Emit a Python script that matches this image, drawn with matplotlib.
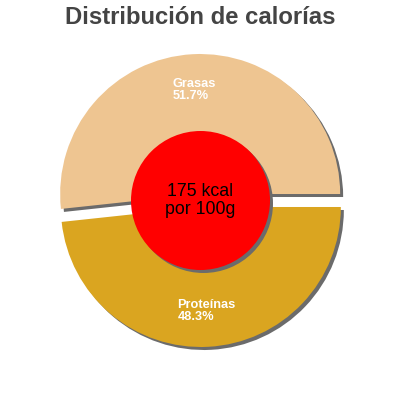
import matplotlib
matplotlib.use("Agg")
import matplotlib.pyplot as plt
from matplotlib.patches import Circle

title = "Distribución de calorías"
categories = ["Grasas", "Proteínas"]
percentages = [51.7, 48.3]
center_text = "175 kcal\npor 100g"

slice_colors = ["#EEC591", "#DAA520"]
shadow_color = "#6B6B6B"

plt.rcParams['font.family'] = ['Liberation Sans', 'DejaVu Sans']

fig = plt.figure(figsize=(4, 4), dpi=100)
ax = fig.add_axes([0, 0, 1, 1])
ax.set_xlim(0, 400)
ax.set_ylim(0, 400)
ax.set_aspect('equal')
ax.axis('off')

cx, cy = 200.5, 199.5
R = 140
expl = [6.5, 6.5]
sh = 3

# shadow pie
ax.pie(percentages, colors=[shadow_color] * 2, radius=R, center=(cx + sh, cy - sh),
       explode=expl, startangle=0, counterclock=True, frame=True,
       wedgeprops=dict(linewidth=0, zorder=1))

labels = [f"{c}\n{p}%" for c, p in zip(categories, percentages)]
wedges, texts = ax.pie(percentages, colors=slice_colors, radius=R, center=(cx, cy),
                       explode=expl, startangle=0, counterclock=True, frame=True,
                       labels=labels, labeldistance=0.745,
                       wedgeprops=dict(linewidth=0, zorder=2),
                       textprops=dict(color='white', fontsize=9.2, fontweight='bold',
                                      ha='center', va='center', multialignment='left',
                                      linespacing=1.0, zorder=5))
ax.set_xlim(0, 400)
ax.set_ylim(0, 400)
ax.axis('off')

ax.add_patch(Circle((cx + sh, cy - sh), 69.5, facecolor=shadow_color, edgecolor='none', zorder=3))
ax.add_patch(Circle((cx, cy), 69.5, facecolor='#FF0000', edgecolor='none', zorder=4))
ax.text(cx, cy, center_text, ha='center', va='center', fontsize=12.8, color='black',
        linespacing=1.0, zorder=6)

fig.text(0.5, 1 - 17 / 400, title, ha='center', va='center', fontsize=17.2,
         fontweight='bold', color='#444444')

fig.savefig("out.png", dpi=100)
